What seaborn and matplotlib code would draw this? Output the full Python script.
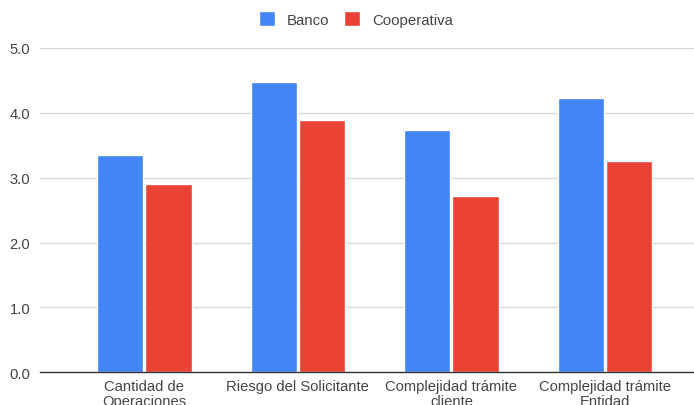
import matplotlib
matplotlib.use("Agg")
import matplotlib.pyplot as plt
import seaborn as sns
import pandas as pd

categories = ["Cantidad de\nOperaciones", "Riesgo del Solicitante",
              "Complejidad trámite\ncliente", "Complejidad trámite\nEntidad"]
banco = [3.35, 4.48, 3.74, 4.23]
cooperativa = [2.90, 3.89, 2.72, 3.26]
series_names = ["Banco", "Cooperativa"]
y_ticks = [0.0, 1.0, 2.0, 3.0, 4.0, 5.0]

df = pd.DataFrame({
    "categoria": categories * 2,
    "valor": banco + cooperativa,
    "serie": [series_names[0]] * len(categories) + [series_names[1]] * len(categories),
})

sns.set_theme(style="white")
plt.rcParams["font.family"] = ["Liberation Sans", "DejaVu Sans"]

W, H = 694, 406
fig = plt.figure(figsize=(W / 100, H / 100), dpi=100)
ax = fig.add_axes([40 / W, (H - 373.3) / H, 1 - 40 / W, (373.3 - 49) / H])

sns.barplot(data=df, x="categoria", y="valor", hue="serie", order=categories,
            hue_order=series_names, palette=["#4285F4", "#EA4335"],
            width=0.63, gap=0.04, ax=ax, legend=True, saturation=1)

ax.set_xlim(-0.68, 3.58)
ax.set_ylim(0, 5)
ax.set_yticks(y_ticks)
ax.set_yticklabels([f"{v:.1f}" for v in y_ticks])
ax.set_xlabel("")
ax.set_ylabel("")
ax.grid(axis="y", color="#d9d9d9", linewidth=1)
ax.set_axisbelow(True)
for side in ["top", "right", "left"]:
    ax.spines[side].set_visible(False)
ax.spines["bottom"].set_color("#333333")
ax.spines["bottom"].set_linewidth(1)
ax.tick_params(axis="both", length=0, labelsize=10.6, colors="#444444")
ax.tick_params(axis="y", pad=7)
ax.tick_params(axis="x", pad=5)
for lbl in ax.get_xticklabels():
    lbl.set_linespacing(1.05)

handles, labels = ax.get_legend_handles_labels()
ax.get_legend().remove()
fig.legend(handles, labels, loc="center", bbox_to_anchor=(356 / W, 1 - 20 / H),
           ncol=2, frameon=False, fontsize=10.8, handlelength=1.1, handleheight=1.1,
           handletextpad=0.8, columnspacing=0.95, labelcolor="#444444")

fig.savefig("out.png", dpi=100)
